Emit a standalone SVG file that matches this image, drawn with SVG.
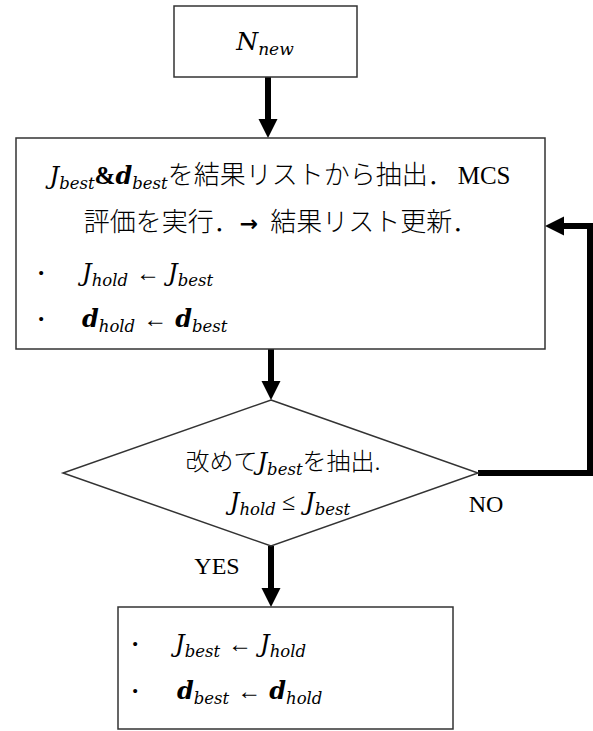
<svg xmlns="http://www.w3.org/2000/svg" width="593" height="731" viewBox="0 0 593 731">
<style>
.box{fill:#fff;stroke:#333;stroke-width:1.5}
.con{fill:none;stroke:#000;stroke-width:6}
.t{font-family:"Liberation Serif","Noto Sans CJK JP",serif;font-size:25px;fill:#000}
.jp{font-family:"Noto Sans CJK JP","Liberation Serif",sans-serif;font-size:26px;font-weight:300}
.jps{font-family:"Noto Sans CJK JP","Liberation Serif",sans-serif;font-size:24px;font-weight:300}
.mi{font-family:"DejaVu Serif",serif;font-style:italic;font-size:24px}
.sub{font-family:"DejaVu Serif",serif;font-style:italic;font-size:16.5px}
.bi{font-family:"DejaVu Serif",serif;font-style:italic;font-weight:bold;font-size:24px}
.b{font-weight:bold}
.rel{font-family:"Liberation Serif",serif;font-size:24px}
.ar{font-family:"DejaVu Sans",sans-serif;font-weight:bold;font-size:22px}
</style>
<defs>
<marker id="ah" markerUnits="userSpaceOnUse" markerWidth="20" markerHeight="20" viewBox="0 0 20 20" refX="0" refY="10" orient="auto">
<path d="M0,0.5 L19,10 L0,19.5 z" fill="#000"/>
</marker>
</defs>
<g id="connectors">
<path class="con" d="M268,77 V119" marker-end="url(#ah)"/>
<path class="con" d="M271,349 V381" marker-end="url(#ah)"/>
<path class="con" d="M271,546 V588" marker-end="url(#ah)"/>
<path class="con" d="M478,473 H590 V226 H564" marker-end="url(#ah)"/>
</g>
<g id="n-new">
<rect class="box" x="174" y="6" width="183" height="71"/>
<text class="t" x="265" y="50" text-anchor="middle"><tspan class="mi" style="font-size:25px">N</tspan><tspan class="sub" style="font-size:17px" dy="5">new</tspan></text>
</g>
<g id="mcs">
<rect class="box" x="16" y="138" width="529" height="211"/>
<text class="t" x="280" y="184" text-anchor="middle"><tspan class="mi">J</tspan><tspan class="sub" dy="5">best</tspan><tspan class="b" dy="-5">&amp;</tspan><tspan class="bi">d</tspan><tspan class="sub" dy="5">best</tspan><tspan class="jp" dy="-5">を結果リストから抽出．</tspan><tspan dx="4">MCS</tspan></text>
<text class="t" x="281" y="231" text-anchor="middle"><tspan class="jp">評価を実行．</tspan><tspan class="ar">→</tspan><tspan class="jp" dx="12">結果リスト更新．</tspan></text>
<text class="t" x="37" y="281"><tspan class="b">·</tspan></text>
<text class="t" x="82" y="281"><tspan class="mi">J</tspan><tspan class="sub" dy="5">hold</tspan><tspan class="rel" dx="8" dy="-5">←</tspan><tspan class="mi" dx="8">J</tspan><tspan class="sub" dy="5">best</tspan></text>
<text class="t" x="37" y="327"><tspan class="b">·</tspan></text>
<text class="t" x="82" y="327"><tspan class="bi">d</tspan><tspan class="sub" dy="5">hold</tspan><tspan class="rel" dx="8" dy="-5">←</tspan><tspan class="bi" dx="8">d</tspan><tspan class="sub" dy="5">best</tspan></text>
</g>
<g id="check">
<polygon class="box" points="271,400 478,473 271,546 63,473"/>
<text class="t" x="283" y="470" text-anchor="middle"><tspan class="jps">改めて</tspan><tspan class="mi">J</tspan><tspan class="sub" dy="5">best</tspan><tspan class="jps" dy="-5">を抽出.</tspan></text>
<text class="t" x="290" y="510" text-anchor="middle"><tspan class="mi">J</tspan><tspan class="sub" dy="5">hold</tspan><tspan class="rel" dx="6" dy="-5">≤</tspan><tspan class="mi" dx="10">J</tspan><tspan class="sub" dy="5">best</tspan></text>
</g>
<text class="t" x="486" y="512" text-anchor="middle" style="font-size:24px">NO</text>
<text class="t" x="217" y="574" text-anchor="middle" style="font-size:24px">YES</text>
<g id="update">
<rect class="box" x="118" y="607" width="335" height="122"/>
<text class="t" x="131" y="652"><tspan class="b">·</tspan></text>
<text class="t" x="175" y="652"><tspan class="mi">J</tspan><tspan class="sub" dy="5">best</tspan><tspan class="rel" dx="8" dy="-5">←</tspan><tspan class="mi" dx="8">J</tspan><tspan class="sub" dy="5">hold</tspan></text>
<text class="t" x="131" y="699"><tspan class="b">·</tspan></text>
<text class="t" x="177" y="699"><tspan class="bi">d</tspan><tspan class="sub" dy="5">best</tspan><tspan class="rel" dx="8" dy="-5">←</tspan><tspan class="bi" dx="8">d</tspan><tspan class="sub" dy="5">hold</tspan></text>
</g>
</svg>
